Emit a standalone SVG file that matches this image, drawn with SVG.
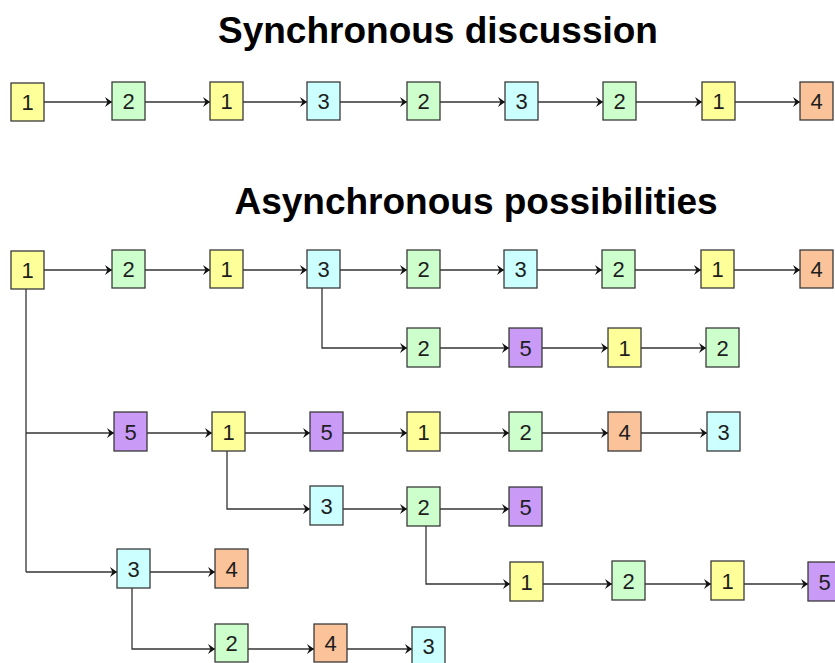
<svg xmlns="http://www.w3.org/2000/svg" width="835" height="663" viewBox="0 0 835 663">
<style>
.b{stroke:#3a3a3a;stroke-width:1.3}
.y{fill:#FFFF99}.g{fill:#CCFFCC}.c{fill:#CCFFFF}.o{fill:#FAC39A}.p{fill:#C99BF7}
.t{font-family:"Liberation Sans",Arial,sans-serif;font-size:22px;fill:#1e1e1e;text-anchor:middle}
.h{font-family:"Liberation Sans",Arial,sans-serif;font-size:37px;font-weight:bold;fill:#000;text-anchor:middle}
.l{fill:none;stroke:#333;stroke-width:1.3}
.a{marker-end:url(#ar)}
</style>
<defs>
<marker id="ar" markerUnits="userSpaceOnUse" markerWidth="10" markerHeight="12" refX="7" refY="5" orient="auto">
<path d="M0,0 L7,5 L0,10 L2.5,5 Z" fill="#111"/>
</marker>
</defs>
<rect width="835" height="663" fill="#fff"/>
<text class="h" x="438" y="43">Synchronous discussion</text>
<text class="h" x="476" y="214">Asynchronous possibilities</text>

<g id="connectors">
<path class="l a" d="M44,102H112"/>
<path class="l a" d="M145,102H210"/>
<path class="l a" d="M243,102H307"/>
<path class="l a" d="M340,102H407"/>
<path class="l a" d="M440,102H505"/>
<path class="l a" d="M538,102H603"/>
<path class="l a" d="M636,102H702"/>
<path class="l a" d="M735,102H800"/>
<path class="l a" d="M44,270H112"/>
<path class="l a" d="M145,270H210"/>
<path class="l a" d="M243,270H307"/>
<path class="l a" d="M340,270H407"/>
<path class="l a" d="M440,270H504"/>
<path class="l a" d="M537,270H602"/>
<path class="l a" d="M635,270H701"/>
<path class="l a" d="M734,270H800"/>
<path class="l a" d="M322,288V348H407"/>
<path class="l a" d="M440,348H509"/>
<path class="l a" d="M542,348H608"/>
<path class="l a" d="M641,348H706"/>
<path class="l" d="M26,289V572"/>
<path class="l a" d="M26,433H114"/>
<path class="l a" d="M147,433H212"/>
<path class="l a" d="M245,433H310"/>
<path class="l a" d="M343,433H407"/>
<path class="l a" d="M440,433H509"/>
<path class="l a" d="M542,433H608"/>
<path class="l a" d="M641,433H707"/>
<path class="l a" d="M227,450V509H310"/>
<path class="l a" d="M343,509H407"/>
<path class="l a" d="M440,509H509"/>
<path class="l a" d="M426,525V584H510"/>
<path class="l a" d="M543,584H612"/>
<path class="l a" d="M645,584H711"/>
<path class="l a" d="M744,584H808"/>
<path class="l a" d="M26,572H117"/>
<path class="l a" d="M150,572H215"/>
<path class="l a" d="M132,587V649H215"/>
<path class="l a" d="M248,649H314"/>
<path class="l a" d="M347,649H412"/>
</g>

<g id="s1"><rect class="b y" x="11" y="83" width="33" height="38"/><text class="t" x="27.5" y="110">1</text></g>
<g id="s2"><rect class="b g" x="112" y="82" width="33" height="38"/><text class="t" x="128.5" y="109">2</text></g>
<g id="s3"><rect class="b y" x="210" y="82" width="33" height="38"/><text class="t" x="226.5" y="109">1</text></g>
<g id="s4"><rect class="b c" x="307" y="82" width="33" height="38"/><text class="t" x="323.5" y="109">3</text></g>
<g id="s5"><rect class="b g" x="407" y="82" width="33" height="38"/><text class="t" x="423.5" y="109">2</text></g>
<g id="s6"><rect class="b c" x="505" y="82" width="33" height="38"/><text class="t" x="521.5" y="109">3</text></g>
<g id="s7"><rect class="b g" x="603" y="82" width="33" height="38"/><text class="t" x="619.5" y="109">2</text></g>
<g id="s8"><rect class="b y" x="702" y="82" width="33" height="38"/><text class="t" x="718.5" y="109">1</text></g>
<g id="s9"><rect class="b o" x="800" y="82" width="33" height="38"/><text class="t" x="816.5" y="109">4</text></g>

<g id="a1"><rect class="b y" x="11" y="251" width="33" height="38"/><text class="t" x="27.5" y="278">1</text></g>
<g id="a2"><rect class="b g" x="112" y="250" width="33" height="38"/><text class="t" x="128.5" y="277">2</text></g>
<g id="a3"><rect class="b y" x="210" y="250" width="33" height="38"/><text class="t" x="226.5" y="277">1</text></g>
<g id="a4"><rect class="b c" x="307" y="250" width="33" height="38"/><text class="t" x="323.5" y="277">3</text></g>
<g id="a5"><rect class="b g" x="407" y="250" width="33" height="38"/><text class="t" x="423.5" y="277">2</text></g>
<g id="a6"><rect class="b c" x="504" y="250" width="33" height="38"/><text class="t" x="520.5" y="277">3</text></g>
<g id="a7"><rect class="b g" x="602" y="250" width="33" height="38"/><text class="t" x="618.5" y="277">2</text></g>
<g id="a8"><rect class="b y" x="701" y="250" width="33" height="38"/><text class="t" x="717.5" y="277">1</text></g>
<g id="a9"><rect class="b o" x="800" y="250" width="33" height="38"/><text class="t" x="816.5" y="277">4</text></g>

<g id="b1"><rect class="b g" x="407" y="328" width="33" height="39"/><text class="t" x="423.5" y="356">2</text></g>
<g id="b2"><rect class="b p" x="509" y="328" width="33" height="39"/><text class="t" x="525.5" y="356">5</text></g>
<g id="b3"><rect class="b y" x="608" y="328" width="33" height="39"/><text class="t" x="624.5" y="356">1</text></g>
<g id="b4"><rect class="b g" x="706" y="328" width="33" height="39"/><text class="t" x="722.5" y="356">2</text></g>

<g id="c1"><rect class="b p" x="114" y="412" width="33" height="39"/><text class="t" x="130.5" y="440">5</text></g>
<g id="c2"><rect class="b y" x="212" y="412" width="33" height="39"/><text class="t" x="228.5" y="440">1</text></g>
<g id="c3"><rect class="b p" x="310" y="412" width="33" height="39"/><text class="t" x="326.5" y="440">5</text></g>
<g id="c4"><rect class="b y" x="407" y="412" width="33" height="39"/><text class="t" x="423.5" y="440">1</text></g>
<g id="c5"><rect class="b g" x="509" y="412" width="33" height="39"/><text class="t" x="525.5" y="440">2</text></g>
<g id="c6"><rect class="b o" x="608" y="412" width="33" height="39"/><text class="t" x="624.5" y="440">4</text></g>
<g id="c7"><rect class="b c" x="707" y="412" width="33" height="39"/><text class="t" x="723.5" y="440">3</text></g>

<g id="d1"><rect class="b c" x="310" y="486" width="33" height="39"/><text class="t" x="326.5" y="514">3</text></g>
<g id="d2"><rect class="b g" x="407" y="487" width="33" height="39"/><text class="t" x="423.5" y="515">2</text></g>
<g id="d3"><rect class="b p" x="509" y="487" width="33" height="39"/><text class="t" x="525.5" y="515">5</text></g>

<g id="e1"><rect class="b y" x="510" y="562" width="33" height="39"/><text class="t" x="526.5" y="590">1</text></g>
<g id="e2"><rect class="b g" x="612" y="561" width="33" height="39"/><text class="t" x="628.5" y="589">2</text></g>
<g id="e3"><rect class="b y" x="711" y="561" width="33" height="39"/><text class="t" x="727.5" y="589">1</text></g>
<g id="e4"><rect class="b p" x="808" y="562" width="33" height="39"/><text class="t" x="824.5" y="590">5</text></g>

<g id="f1"><rect class="b c" x="117" y="549" width="33" height="39"/><text class="t" x="133.5" y="577">3</text></g>
<g id="f2"><rect class="b o" x="215" y="549" width="33" height="39"/><text class="t" x="231.5" y="577">4</text></g>

<g id="g1"><rect class="b g" x="215" y="624" width="33" height="38"/><text class="t" x="231.5" y="651">2</text></g>
<g id="g2"><rect class="b o" x="314" y="624" width="33" height="38"/><text class="t" x="330.5" y="651">4</text></g>
<g id="g3"><rect class="b c" x="412" y="627" width="33" height="38"/><text class="t" x="428.5" y="654">3</text></g>
</svg>
